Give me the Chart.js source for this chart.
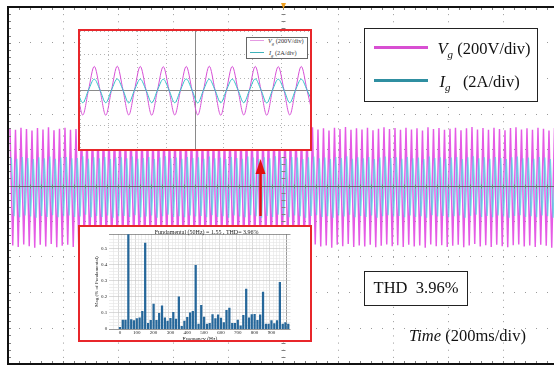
<!DOCTYPE html>
<html>
<head>
<meta charset="utf-8">
<script src="https://cdn.jsdelivr.net/npm/chart.js@4.4.1/dist/chart.umd.min.js"></script>
<style>
  html, body { margin: 0; padding: 0; background: #fff; overflow: hidden; }
  body { width: 554px; height: 368px; position: relative; font-family: "Liberation Serif", "DejaVu Serif", serif; color: #111; }
  .abs { position: absolute; }
  #scope { position: absolute; left: 0; top: 0; }
  .inset { position: absolute; background: #fff; border: 2px solid #e8262b; box-sizing: border-box; overflow: hidden; }
  .inset canvas { position: absolute; left: 0; top: 0; }
  .box { position: absolute; background: #fff; border: 1.5px solid #222; box-sizing: border-box; }
  .big { position: absolute; font-size: 16.5px; line-height: 16.5px; white-space: nowrap; }
  .sub { font-size: 11px; vertical-align: -4px; font-style: italic; }
  .small { position: absolute; font-size: 6.3px; line-height: 6.3px; white-space: nowrap; color: #333; }
  .small .sub { font-size: 4.5px; vertical-align: -1.5px; }
</style>
</head>
<body>
<canvas id="scope" width="566" height="368"></canvas>

<div class="inset" style="left:78px;top:29px;width:234px;height:122px">
  <canvas id="wave" width="230" height="118"></canvas>
</div>
<div class="box" style="left:246px;top:37px;width:62px;height:22px;border:0.8px solid #666"></div>
<div class="abs" style="left:250px;top:40px;width:14px;height:1.3px;background:#e59be3"></div>
<div class="abs" style="left:250px;top:51.5px;width:14px;height:1.3px;background:#3fb2ba"></div>
<div class="small" style="left:268px;top:38px"><i>V</i><span class="sub">g</span> (200V/div)</div>
<div class="small" style="left:269px;top:49.5px"><i>I</i><span class="sub">g</span> (2A/div)</div>

<div class="inset" style="left:78px;top:225px;width:234px;height:117px">
  <canvas id="fft" width="230" height="116"></canvas>
  <div class="abs" style="left:126.7px;top:1.5px;transform:translateX(-50%);font-size:6px;line-height:6px;white-space:nowrap;color:#222">Fundamental (50Hz) = 1.55 , THD= 3.96%</div>
</div>

<svg class="abs" width="554" height="368" style="left:0;top:0">
  <line x1="260.5" y1="216" x2="260.5" y2="171" stroke="#e01010" stroke-width="2.5"/>
  <polygon points="260.5,159 255.5,174 265.5,174" fill="#e01010"/>
</svg>

<div class="box" style="left:364px;top:28px;width:174px;height:74px"></div>
<div class="abs" style="left:374px;top:45.5px;width:54px;height:3px;background:#d84fd2"></div>
<div class="abs" style="left:374px;top:78.5px;width:54px;height:3px;background:#2f8fa1"></div>
<div class="big" style="left:437.5px;top:41px"><i>V</i><span class="sub">g</span> (200V/div)</div>
<div class="big" style="left:439.5px;top:73.5px"><i>I</i><span class="sub">g</span>&nbsp;&nbsp; (2A/div)</div>

<div class="box" style="left:364px;top:271px;width:104px;height:35px"></div>
<div class="big" style="left:364px;top:280px;width:104px;text-align:center">THD&nbsp; 3.96%</div>

<div class="big" style="left:409px;top:328px"><i>Time</i> (200ms/div)</div>

<script>
// main scope trace: one peak and one trough per mains cycle, 10 cycles per division
const vgPeaks = [1.60,1.56,1.62,1.58,1.54,1.61,1.57,1.63,1.55,1.59,
  1.62,1.56,1.58,1.64,1.55,1.60,1.57,1.62,1.54,1.59,
  1.61,1.57,1.63,1.56,1.58,1.62,1.55,1.60,1.64,1.57,
  1.59,1.55,1.62,1.58,1.61,1.56,1.63,1.57,1.60,1.54,
  1.62,1.58,1.56,1.63,1.59,1.55,1.61,1.57,1.64,1.58,
  1.56,1.62,1.59,1.55,1.61,1.63,1.57,1.60,1.54,1.62,
  1.58,1.64,1.56,1.60,1.57,1.62,1.55,1.59,1.63,1.58,
  1.61,1.56,1.62,1.57,1.60,1.54,1.63,1.58,1.61,1.56,
  1.59,1.62,1.55,1.60,1.64,1.57,1.61,1.56,1.62,1.58,
  1.55,1.61,1.63,1.57,1.60,1.56,1.62,1.59,1.54,1.61]
const vgTroughs = [-1.68,-1.72,-1.65,-1.70,-1.74,-1.66,-1.71,-1.64,-1.73,-1.69,
  -1.66,-1.72,-1.70,-1.63,-1.73,-1.68,-1.71,-1.65,-1.74,-1.69,
  -1.67,-1.71,-1.64,-1.72,-1.70,-1.66,-1.73,-1.68,-1.63,-1.71,
  -1.69,-1.73,-1.66,-1.70,-1.67,-1.72,-1.64,-1.71,-1.68,-1.74,
  -1.66,-1.70,-1.72,-1.65,-1.69,-1.73,-1.67,-1.71,-1.63,-1.70,
  -1.72,-1.66,-1.69,-1.73,-1.67,-1.65,-1.71,-1.68,-1.74,-1.66,
  -1.70,-1.64,-1.72,-1.68,-1.71,-1.66,-1.73,-1.69,-1.65,-1.70,
  -1.67,-1.72,-1.66,-1.71,-1.68,-1.74,-1.65,-1.70,-1.67,-1.72,
  -1.69,-1.66,-1.73,-1.68,-1.64,-1.71,-1.67,-1.72,-1.66,-1.70,
  -1.73,-1.67,-1.65,-1.71,-1.68,-1.72,-1.66,-1.69,-1.74,-1.67]
const igPeaks = [0.78,0.75,0.80,0.77,0.74,0.79,0.76,0.81,0.75,0.78,
  0.80,0.76,0.77,0.82,0.75,0.79,0.76,0.80,0.74,0.78,
  0.79,0.76,0.81,0.75,0.77,0.80,0.74,0.78,0.82,0.76,
  0.78,0.75,0.80,0.77,0.79,0.75,0.81,0.76,0.78,0.74,
  0.80,0.77,0.75,0.81,0.78,0.74,0.79,0.76,0.82,0.77,
  0.75,0.80,0.78,0.74,0.79,0.81,0.76,0.78,0.74,0.80,
  0.77,0.82,0.75,0.79,0.76,0.80,0.74,0.78,0.81,0.77,
  0.79,0.75,0.80,0.76,0.78,0.74,0.81,0.77,0.79,0.75,
  0.78,0.80,0.74,0.79,0.82,0.76,0.79,0.75,0.80,0.77,
  0.74,0.79,0.81,0.76,0.78,0.75,0.80,0.78,0.74,0.79]
const igTroughs = [-0.86,-0.89,-0.84,-0.87,-0.90,-0.85,-0.88,-0.83,-0.89,-0.86,
  -0.84,-0.88,-0.87,-0.82,-0.89,-0.85,-0.88,-0.84,-0.90,-0.86,
  -0.85,-0.88,-0.83,-0.89,-0.87,-0.84,-0.90,-0.86,-0.82,-0.88,
  -0.86,-0.89,-0.84,-0.87,-0.85,-0.89,-0.83,-0.88,-0.86,-0.90,
  -0.84,-0.87,-0.89,-0.83,-0.86,-0.90,-0.85,-0.88,-0.82,-0.87,
  -0.89,-0.84,-0.86,-0.90,-0.85,-0.83,-0.88,-0.86,-0.90,-0.84,
  -0.87,-0.82,-0.89,-0.85,-0.88,-0.84,-0.90,-0.86,-0.83,-0.87,
  -0.85,-0.89,-0.84,-0.88,-0.86,-0.90,-0.83,-0.87,-0.85,-0.89,
  -0.86,-0.84,-0.90,-0.85,-0.82,-0.88,-0.85,-0.89,-0.84,-0.87,
  -0.90,-0.85,-0.83,-0.88,-0.86,-0.89,-0.84,-0.86,-0.90,-0.85]
const scopeCycle = 0.1      // divisions per mains cycle
const vgStart = 0.036
const igStart = 0.061

// zoomed trace in the upper inset (10 cycles across the window)
const insetVgPeaks = [1.00,1.01,1.00,0.99,1.00,1.01,1.00,1.00,0.99,1.00]
const insetVgTroughs = [-1.06,-1.07,-1.06,-1.07,-1.06,-1.06,-1.07,-1.06,-1.07,-1.06,-1.06]
const insetIgPeaks = [0.46,0.47,0.46,0.46,0.47,0.46,0.46,0.47,0.46,0.46]
const insetIgTroughs = [-0.54,-0.54,-0.55,-0.54,-0.54,-0.55,-0.54,-0.54,-0.55,-0.54,-0.54]
const insetStart = -0.13

// harmonic spectrum, % of fundamental
const fftFreq = [0,17,33,50,67,83,100,117,133,150,167,183,200,217,233,250,267,283,300,317,
  333,350,367,383,400,417,433,450,467,483,500,517,533,550,567,583,600,617,633,650,
  667,683,700,717,733,750,767,783,800,817,833,850,867,883,900,917,933,950,967,983,1000]
const fftMag = [0.01,0.055,0.055,0.75,0.058,0.052,0.065,0.07,0.11,0.535,0.035,0.054,0.155,0.054,0.097,0.145,0.07,0.05,0.067,0.104,
  0.062,0.2,0.017,0.05,0.073,0.1,0.11,0.397,0.03,0.148,0.075,0.03,0.035,0.09,0.065,0.088,0.068,0.04,0.117,0.13,
  0.035,0.035,0.055,0.02,0.085,0.248,0.07,0.09,0.092,0.054,0.088,0.23,0.031,0.03,0.052,0.033,0.052,0.29,0.03,0.04,0.03]

const serif = 'Liberation Serif'

function zigzag(peaks, troughs, start) {
  const pts = []
  peaks.forEach((p, k) => {
    pts.push({ x: start + k * scopeCycle, y: p })
    pts.push({ x: start + (k + 0.5) * scopeCycle, y: troughs[k] })
  })
  return pts
}

function insetWave(peaks, troughs) {
  const pts = []
  troughs.forEach((t, k) => {
    const x0 = insetStart + k
    pts.push({ x: x0, y: 0 })
    pts.push({ x: x0 + 0.25, y: t })
    if (k < peaks.length) {
      pts.push({ x: x0 + 0.5, y: 0 })
      pts.push({ x: x0 + 0.75, y: peaks[k] })
    }
  })
  return pts
}

const scopeFrame = {
  id: 'scopeFrame',
  afterDatasetsDraw(chart) {
    const { ctx, chartArea: a, scales: { x, y } } = chart
    const cy = Math.round(y.getPixelForValue(0)) + 0.5
    const cx = Math.round(x.getPixelForValue(5)) + 0.5
    ctx.save()
    ctx.strokeStyle = 'rgba(95,95,95,0.85)'
    ctx.lineWidth = 1
    ctx.beginPath()
    ctx.moveTo(a.left, cy); ctx.lineTo(a.right, cy)
    ctx.stroke()
    ctx.strokeStyle = '#808080'
    ctx.beginPath()
    for (let i = 0; i <= 50; i++) {
      const px = Math.round(x.getPixelForValue(i * 0.2)) + 0.5
      ctx.moveTo(px, a.top); ctx.lineTo(px, a.top + 3)
      ctx.moveTo(px, a.bottom); ctx.lineTo(px, a.bottom - 3)
      ctx.moveTo(px, cy - 2); ctx.lineTo(px, cy + 2)
    }
    for (let i = 0; i <= 50; i++) {
      const py = Math.round(y.getPixelForValue(-5 + i * 0.2)) + 0.5
      ctx.moveTo(a.left, py); ctx.lineTo(a.left + 3, py)
      ctx.moveTo(cx - 2, py); ctx.lineTo(cx + 2, py)
    }
    ctx.stroke()
    ctx.strokeStyle = '#111'
    ctx.lineWidth = 2
    ctx.strokeRect(a.left, a.top, a.right - a.left, a.bottom - a.top)
    ctx.fillStyle = '#f0a020'
    ctx.beginPath()
    ctx.moveTo(cx - 2.5, a.top - 4); ctx.lineTo(cx + 2.5, a.top - 4); ctx.lineTo(cx, a.top + 2)
    ctx.closePath()
    ctx.fill()
    ctx.restore()
  }
}

new Chart(document.getElementById('scope'), {
  type: 'line',
  data: {
    datasets: [
      { label: 'Ig', data: zigzag(igPeaks, igTroughs, igStart), borderColor: 'rgba(70,218,228,0.7)', borderWidth: 1.3 },
      { label: 'Vg', data: zigzag(vgPeaks, vgTroughs, vgStart), borderColor: 'rgba(226,72,226,0.9)', borderWidth: 1.45 }
    ]
  },
  options: {
    responsive: false,
    animation: false,
    events: [],
    elements: { point: { radius: 0 }, line: { tension: 0 } },
    layout: { padding: { left: 8, top: 7, right: 8, bottom: 4 } },
    plugins: { legend: { display: false }, tooltip: { enabled: false } },
    scales: {
      x: {
        type: 'linear', min: 0, max: 10,
        ticks: { display: false, stepSize: 1 },
        grid: { color: '#9a9a9a', drawTicks: false },
        border: { display: false, dash: [1, 6.14] }
      },
      y: {
        min: -5, max: 5,
        ticks: { display: false, stepSize: 1 },
        grid: { color: '#9a9a9a', drawTicks: false },
        border: { display: false, dash: [1, 10] }
      }
    }
  },
  plugins: [scopeFrame]
})

const insetAxes = {
  id: 'insetAxes',
  beforeDatasetsDraw(chart) {
    const { ctx, chartArea: a, scales: { x, y } } = chart
    const cy = Math.round(y.getPixelForValue(0)) + 0.5
    const cx = Math.round(x.getPixelForValue(5)) + 0.5
    ctx.save()
    ctx.strokeStyle = '#8a8a8a'
    ctx.lineWidth = 1
    ctx.beginPath()
    ctx.moveTo(a.left, cy); ctx.lineTo(a.right, cy)
    ctx.moveTo(cx, a.top); ctx.lineTo(cx, a.bottom)
    ctx.stroke()
    ctx.restore()
  }
}

new Chart(document.getElementById('wave'), {
  type: 'line',
  data: {
    datasets: [
      { label: 'Ig', data: insetWave(insetIgPeaks, insetIgTroughs), borderColor: '#33c2c9', borderWidth: 1 },
      { label: 'Vg', data: insetWave(insetVgPeaks, insetVgTroughs), borderColor: '#d650d6', borderWidth: 1 }
    ]
  },
  options: {
    responsive: false,
    animation: false,
    events: [],
    elements: { point: { radius: 0 }, line: { cubicInterpolationMode: 'monotone' } },
    layout: { padding: 0 },
    plugins: { legend: { display: false }, tooltip: { enabled: false } },
    scales: {
      x: {
        type: 'linear', min: 0, max: 10,
        ticks: { display: false, stepSize: 1.25 },
        grid: { color: '#b4b4b4', drawTicks: false },
        border: { display: false, dash: [1, 3] }
      },
      y: {
        min: -2.5, max: 2.5,
        ticks: { display: false, stepSize: 1 },
        grid: { color: '#b4b4b4', drawTicks: false },
        border: { display: false, dash: [1, 3] }
      }
    }
  },
  plugins: [insetAxes]
})

const tickFont = { family: serif, size: 5 }
const isMult = (v, m) => Math.abs(v / m - Math.round(v / m)) < 1e-6

new Chart(document.getElementById('fft'), {
  type: 'bar',
  data: {
    datasets: [{
      label: 'Mag',
      data: fftFreq.map((f, i) => ({ x: f, y: fftMag[i] })),
      backgroundColor: '#26679a',
      barThickness: 1.6
    }]
  },
  options: {
    responsive: false,
    animation: false,
    events: [],
    layout: { padding: { left: 14, top: 7.3, right: 19.5, bottom: 0 } },
    plugins: { legend: { display: false }, tooltip: { enabled: false } },
    scales: {
      x: {
        type: 'linear', min: -53, max: 1003,
        ticks: {
          stepSize: 20, autoSkip: false, maxRotation: 0, padding: 1,
          font: tickFont, color: '#222',
          callback: v => (v >= 0 && isMult(v, 100)) ? String(v) : ''
        },
        grid: {
          drawTicks: false, lineWidth: 0.6,
          color: c => {
            const v = c.tick ? c.tick.value : 0
            if (v === -53 || v === 1003) return '#555'
            return isMult(v, 100) ? '#c2c2c2' : '#e4e4e4'
          }
        },
        border: { display: false },
        title: { display: true, text: 'Frequency (Hz)', font: { family: serif, size: 5.5 }, color: '#222', padding: 0 },
        afterFit: s => { s.height = 14 }
      },
      y: {
        min: 0, max: 0.59,
        ticks: {
          stepSize: 0.02, autoSkip: false, padding: 2,
          font: tickFont, color: '#222',
          callback: v => (v <= 0.5 && isMult(v, 0.1)) ? (v === 0 ? '0' : v.toFixed(1)) : ''
        },
        grid: {
          drawTicks: false, lineWidth: 0.6,
          color: c => {
            const v = c.tick ? c.tick.value : 0
            if (v === 0 || v === 0.59) return '#555'
            return isMult(v, 0.1) ? '#c2c2c2' : '#e4e4e4'
          }
        },
        border: { display: false },
        title: { display: true, text: 'Mag (% of Fundamental)', font: { family: serif, size: 5 }, color: '#222', padding: 0 },
        afterFit: s => { s.width = 15.3 }
      }
    }
  }
})
</script>
</body>
</html>
